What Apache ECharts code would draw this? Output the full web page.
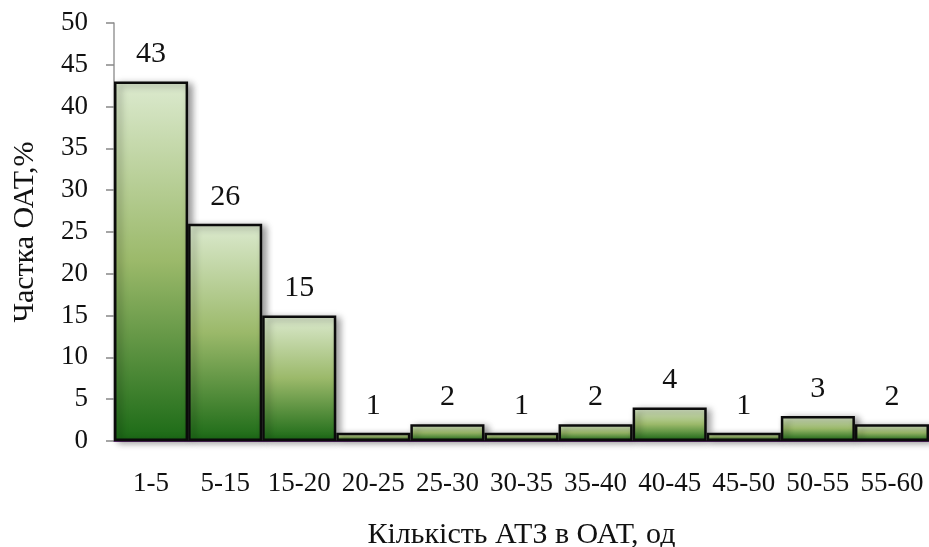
<!DOCTYPE html>
<html>
<head>
<meta charset="utf-8">
<script src="https://cdn.jsdelivr.net/npm/echarts@6/dist/echarts.min.js"></script>
<style>
  html, body { margin: 0; padding: 0; background: #ffffff; }
  #chart { width: 929px; height: 547px; }
</style>
</head>
<body>
<div id="chart"></div>
<script>
// Distribution of transport enterprises by fleet size
const categories = ['1-5', '5-15', '15-20', '20-25', '25-30', '30-35', '35-40', '40-45', '45-50', '50-55', '55-60'];
const shares = [43, 26, 15, 1, 2, 1, 2, 4, 1, 3, 2];
const yTicks = { min: 0, max: 50, interval: 5 };

const serif = '"Liberation Serif", "DejaVu Serif", serif';

const chart = echarts.init(document.getElementById('chart'));
chart.setOption({
  animation: false,
  backgroundColor: '#ffffff',
  grid: { left: 114, right: 0, top: 23, bottom: 106, containLabel: false, outerBoundsMode: 'none' },
  xAxis: {
    type: 'category',
    data: categories,
    name: 'Кількість АТЗ в ОАТ, од',
    nameLocation: 'middle',
    nameGap: 79,
    nameTextStyle: { fontFamily: serif, fontSize: 30, color: '#111' },
    axisLine: { show: true, lineStyle: { color: '#5a2a6a', width: 2 } },
    axisTick: { show: false },
    axisLabel: { fontFamily: serif, fontSize: 27, color: '#111', margin: 29, interval: 0 }
  },
  yAxis: {
    type: 'value',
    min: yTicks.min,
    max: yTicks.max,
    interval: yTicks.interval,
    name: 'Частка ОАТ,%',
    nameLocation: 'middle',
    nameGap: 74,
    nameTextStyle: { fontFamily: serif, fontSize: 30, color: '#111' },
    axisLine: { show: true, lineStyle: { color: '#999', width: 1.5 } },
    axisTick: { show: true, length: 8, lineStyle: { color: '#888', width: 1.5 } },
    axisLabel: { fontFamily: serif, fontSize: 27, color: '#111', margin: 26 },
    splitLine: { show: false }
  },
  series: [{
    type: 'bar',
    data: shares,
    barCategoryGap: '0%',
    itemStyle: {
      color: new echarts.graphic.LinearGradient(0, 0, 0, 1, [
        { offset: 0, color: '#dceacf' },
        { offset: 0.5, color: '#9bb96a' },
        { offset: 1, color: '#1b6a16' }
      ]),
      borderColor: '#0b0b0b',
      borderWidth: 2.5,
      shadowColor: 'rgba(0,0,0,0.4)',
      shadowBlur: 7,
      shadowOffsetX: 4,
      shadowOffsetY: 2
    },
    label: {
      show: true,
      position: 'top',
      distance: 12,
      fontFamily: serif,
      fontSize: 30,
      color: '#111'
    }
  }]
});
</script>
</body>
</html>
